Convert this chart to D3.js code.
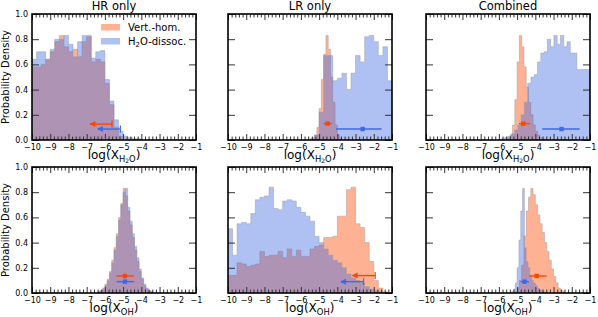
<!DOCTYPE html>
<html>
<head>
<meta charset="utf-8">
<script src="https://cdnjs.cloudflare.com/ajax/libs/d3/7.8.5/d3.min.js"></script>
<style>
  body { margin: 0; background: #fff; }
  text { font-family: "DejaVu Sans", sans-serif; fill: #000; }
</style>
</head>
<body>
<script>
// ticks, titles
var xTicks = [-10, -9, -8, -7, -6, -5, -4, -3, -2, -1];
var yTicks = [0, 0.2, 0.4, 0.6, 0.8, 1.0];
var colTitles = ["HR only", "LR only", "Combined"];

// histograms: [first bin edge, bin width, heights]
var hrH2oVert = [-10, 0.25, [0.58,0.58,0.60,0.64,0.70,0.78,0.83,0.74,0.70,0.72,0.66,0.78,0.82,0.62,0.64,0.62,0.45,0.28,0.10,0.03]];
var hrH2oDiss = [-10, 0.25, [0.64,0.70,0.70,0.64,0.72,0.80,0.80,0.83,0.76,0.66,0.78,0.83,0.83,0.65,0.70,0.71,0.48,0.31,0.16,0.07,0.03,0.02,0.01,0.01]];

var lrH2oVert = [-5.375, 0.125, [0.02,0.04,0.10,0.25,0.48,0.68,0.83,0.72,0.50,0.30,0.12,0.04,0.01]];
var lrH2oDiss = [-5.5, 0.25, [0.01,0.04,0.22,0.67,0.67,0.47,0.49,0.53,0.40,0.53,0.67,0.62,0.82,0.83,0.78,0.67,0.74,0.47]];

var coH2oVert = [-5.5, 0.125, [0.01,0.04,0.12,0.32,0.62,0.83,0.74,0.58,0.42,0.30,0.20,0.12,0.07,0.04,0.02,0.01]];
var coH2oDiss = [-5.86, 0.18, [0.01,0.02,0.03,0.05,0.08,0.12,0.20,0.30,0.45,0.50,0.52,0.62,0.69,0.70,0.80,0.74,0.83,0.76,0.83,0.74,0.78,0.69,0.69,0.56,0.56,0.56,0.56]];

var hrOhVert = [-6.375, 0.125, [0.01,0.02,0.04,0.07,0.11,0.17,0.26,0.36,0.47,0.60,0.71,0.83,0.77,0.65,0.54,0.44,0.34,0.25,0.17,0.11,0.06,0.03,0.02,0.01]];
var hrOhDiss = [-6.375, 0.125, [0.01,0.02,0.03,0.06,0.10,0.16,0.24,0.34,0.45,0.58,0.70,0.80,0.83,0.68,0.57,0.47,0.37,0.28,0.19,0.12,0.07,0.04,0.02,0.01]];

var lrOhVert = [-10, 0.25, [0.14,0.14,0.24,0.23,0.21,0.22,0.23,0.33,0.29,0.30,0.30,0.33,0.28,0.35,0.29,0.34,0.29,0.29,0.35,0.37,0.38,0.44,0.44,0.45,0.61,0.61,0.82,0.84,0.55,0.52,0.40,0.25,0.10,0.04,0.01]];
var lrOhDiss = [-10, 0.25, [0.51,0.30,0.55,0.56,0.55,0.63,0.74,0.76,0.77,0.84,0.67,0.66,0.73,0.74,0.73,0.68,0.64,0.61,0.57,0.45,0.40,0.35,0.30,0.26,0.24,0.20,0.15,0.12,0.10,0.08,0.05,0.03,0.02,0.01]];

var coOhVert = [-5.125, 0.125, [0.01,0.04,0.10,0.22,0.45,0.65,0.76,0.83,0.78,0.70,0.62,0.55,0.48,0.40,0.33,0.26,0.19,0.13,0.08,0.04,0.02,0.01]];
var coOhDiss = [-5.3, 0.1, [0.01,0.03,0.08,0.20,0.42,0.65,0.83,0.36,0.25,0.20,0.14,0.10,0.08,0.06,0.04,0.03,0.02,0.01]];

// error bars: [lower, value (null = upper limit), upper, height]
var errVert = [[-6.8,null,-5.61,0.126],[-4.75,-4.53,-4.30,0.13],[-4.9,-4.66,-4.3,0.13],
               [-5.36,-4.9,-4.41,0.135],[-3.16,null,-1.92,0.138],[-4.35,-3.93,-3.38,0.135]];
var errDiss = [[-6.38,null,-5.15,0.087],[-4.08,-2.61,-1.57,0.087],[-3.62,-2.56,-1.57,0.087],
               [-5.36,-4.9,-4.41,0.09],[-3.8,null,-2.56,0.09],[-4.81,-4.59,-4.35,0.09]];

var vertHists = [hrH2oVert, lrH2oVert, coH2oVert, hrOhVert, lrOhVert, coOhVert];
var dissHists = [hrH2oDiss, lrH2oDiss, coH2oDiss, hrOhDiss, lrOhDiss, coOhDiss];

var W = 598, H = 317;
var colX = [32, 228, 426], rowY = [14, 167];
var pw = 164, ph = 126;
var orange = "#ff4500", blue = "#4169e1";

var svg = d3.select("body").append("svg")
    .attr("width", W)
    .attr("height", H);

var x = d3.scaleLinear().domain([-10, -1]).range([0, pw]);
var y = d3.scaleLinear().domain([0, 1]).range([ph, 0]);

var minorX = d3.range(-100, -10, 2).map(function(d){ return d / 10; }).filter(function(d){ return Math.round(d) !== d; });

function stepPath(h) {
  var x0 = h[0], dx = h[1], v = h[2];
  var pts = [[x0, 0]];
  v.forEach(function(val, i){
    pts.push([x0 + i*dx, val]);
    pts.push([x0 + (i+1)*dx, val]);
  });
  pts.push([x0 + v.length*dx, 0]);
  return d3.line().x(function(d){ return x(d[0]); }).y(function(d){ return y(d[1]); })(pts);
}

function drawErr(g, e, col) {
  var yy = y(e[3]);
  g.append("line")
    .attr("x1", x(e[0])).attr("x2", x(e[2]))
    .attr("y1", yy).attr("y2", yy)
    .attr("stroke", col).attr("stroke-width", 1.4);
  if (e[1] === null) {
    // upper limit: cap on the right, arrow head on the left
    g.append("line")
      .attr("x1", x(e[2])).attr("x2", x(e[2]))
      .attr("y1", yy - 3.5).attr("y2", yy + 3.5)
      .attr("stroke", col).attr("stroke-width", 1.2);
    var hx = x(e[0]);
    g.append("path")
      .attr("d", "M" + (hx - 1) + "," + yy + "L" + (hx + 5) + "," + (yy - 3) + "L" + (hx + 5) + "," + (yy + 3) + "Z")
      .attr("fill", col);
  } else {
    g.append("rect")
      .attr("x", x(e[1]) - 2.2).attr("y", yy - 2.2)
      .attr("width", 4.4).attr("height", 4.4)
      .attr("fill", col);
  }
}

for (var k = 0; k < 6; k++) {
  var row = Math.floor(k / 3), col = k % 3;
  var g = svg.append("g").attr("transform", "translate(" + colX[col] + "," + rowY[row] + ")");

  svg.append("clipPath").attr("id", "clip" + k)
    .append("rect").attr("width", pw).attr("height", ph);
  var plot = g.append("g").attr("clip-path", "url(#clip" + k + ")");

  plot.append("path")
    .attr("d", stepPath(vertHists[k]))
    .attr("fill", orange).attr("fill-opacity", 0.42)
    .attr("stroke", "#999").attr("stroke-opacity", 0.45).attr("stroke-width", 1);
  plot.append("path")
    .attr("d", stepPath(dissHists[k]))
    .attr("fill", blue).attr("fill-opacity", 0.42)
    .attr("stroke", "#999").attr("stroke-opacity", 0.45).attr("stroke-width", 1);

  drawErr(plot, errVert[k], orange);
  drawErr(plot, errDiss[k], blue);

  // axes, ticks inward
  g.append("g").attr("transform", "translate(0," + ph + ")")
    .call(d3.axisBottom(x).tickValues(xTicks).tickSize(-6).tickPadding(4).tickFormat(d3.format("d")));
  g.append("g").attr("transform", "translate(0," + ph + ")")
    .call(d3.axisBottom(x).tickValues(minorX).tickSize(-3.5).tickFormat(""));
  g.append("g").call(d3.axisTop(x).tickValues(xTicks).tickSize(-6).tickFormat(""));
  g.append("g").call(d3.axisTop(x).tickValues(minorX).tickSize(-3.5).tickFormat(""));
  g.append("g")
    .call(d3.axisLeft(y).tickValues(yTicks).tickSize(-7).tickPadding(4)
      .tickFormat(col === 0 ? d3.format(".1f") : ""));
  g.append("g").attr("transform", "translate(" + pw + ",0)")
    .call(d3.axisRight(y).tickValues(yTicks).tickSize(-7).tickFormat(""));

  g.selectAll(".domain").remove();
  g.selectAll(".tick line").attr("stroke", "#333").attr("stroke-width", 1);
  g.selectAll(".tick text").style("font-size", "8px").style("font-family", "DejaVu Sans").attr("fill", "#000");

  g.append("rect")
    .attr("width", pw).attr("height", ph)
    .attr("fill", "none").attr("stroke", "#000").attr("stroke-width", 1.6);

  if (row === 0) {
    g.append("text")
      .attr("x", pw / 2).attr("y", -4)
      .attr("text-anchor", "middle")
      .style("font-size", "11.5px")
      .text(colTitles[col]);
  }

  // x label
  var xl = g.append("text")
    .attr("x", pw / 2).attr("y", ph + 19)
    .attr("text-anchor", "middle")
    .style("font-size", "12px");
  xl.append("tspan").text("log(X");
  if (row === 0) {
    xl.append("tspan").attr("dy", 2.5).style("font-size", "8.4px").text("H");
    xl.append("tspan").attr("dy", 1.5).style("font-size", "6px").text("2");
    xl.append("tspan").attr("dy", -1.5).style("font-size", "8.4px").text("O");
    xl.append("tspan").attr("dy", -2.5).text(")");
  } else {
    xl.append("tspan").attr("dy", 2.5).style("font-size", "8.4px").text("OH");
    xl.append("tspan").attr("dy", -2.5).text(")");
  }

  if (col === 0) {
    g.append("text")
      .attr("transform", "translate(-23.5," + (ph / 2) + ") rotate(-90)")
      .attr("text-anchor", "middle")
      .style("font-size", "10px")
      .text("Probability Density");
  }

  if (k === 0) {
    var lg = g.append("g");
    lg.append("rect").attr("x", 69).attr("y", 10).attr("width", 19).attr("height", 6.5)
      .attr("fill", orange).attr("fill-opacity", 0.42);
    lg.append("rect").attr("x", 69).attr("y", 24).attr("width", 19).attr("height", 6.5)
      .attr("fill", blue).attr("fill-opacity", 0.42);
    lg.append("text").attr("x", 96).attr("y", 17).style("font-size", "10px").text("Vert.-hom.");
    var t2 = lg.append("text").attr("x", 96).attr("y", 31).style("font-size", "10px");
    t2.append("tspan").text("H");
    t2.append("tspan").attr("dy", 2).style("font-size", "7px").text("2");
    t2.append("tspan").attr("dy", -2).text("O-dissoc.");
  }
}
</script>
</body>
</html>
